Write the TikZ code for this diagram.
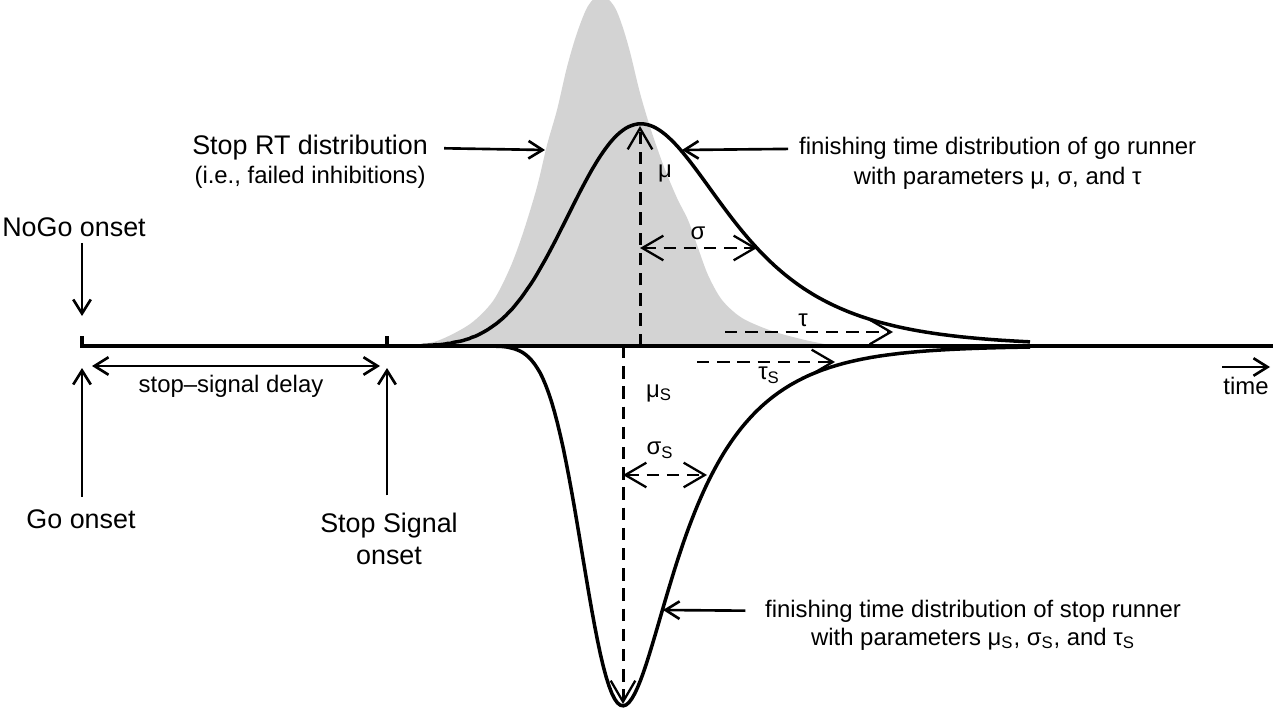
\documentclass[tikz,border=0pt]{standalone}
\usepackage{fontspec}
\setmainfont{Liberation Sans}
\usetikzlibrary{positioning, calc, arrows.meta}
\definecolor{rtgray}{RGB}{211,211,211}
\tikzset{
  rt axis/.style={black, line width=1.9pt, line cap=butt},
  rt curve/.style={black, line width=2pt},
  rt fill/.style={fill=rtgray, draw=none},
  rt par/.style={black, line width=1.7pt, dash pattern=on 7pt off 4.5pt, -{Straight Barb[length=12pt,width=14pt,line width=1.3pt]}},
  rt par2/.style={rt par, {Straight Barb[length=12pt,width=14pt,line width=1.3pt]}-{Straight Barb[length=12pt,width=14pt,line width=1.3pt]}},
  rt note/.style={black, line width=1.5pt, -{Straight Barb[length=8pt,width=10pt]}},
  rt note2/.style={rt note, {Straight Barb[length=8pt,width=10pt]}-{Straight Barb[length=8pt,width=10pt]}},
  lbl big/.style={font=\fontsize{15.3}{18.1}\selectfont, inner sep=1, align=center},
  lbl/.style={font=\fontsize{13.6}{17}\selectfont, inner sep=1, align=center},
  declare function={
    rtk(\xz)=1.5976*\xz+0.07056*\xz*\xz*\xz;
    rtphi(\xz)=(\xz<0) ? exp(-min(abs(rtk(\xz)),12))/(1+exp(-min(abs(rtk(\xz)),12))) : 1/(1+exp(-min(abs(rtk(\xz)),12)));
    rtexg(\xt,\xm,\xs,\xu)=exp(\xs*\xs/(2*\xu*\xu)-(\xt-\xm)/\xu)*rtphi((\xt-\xm)/\xs-\xs/\xu);
  }
}
\newcommand{\subS}{\textsubscript{S}}

\begin{document}
\begin{tikzpicture}[x=0.02cm, y=-0.02cm]
\useasboundingbox (0,0) rectangle (1273,709);

% observed stop RT distribution
\begin{scope}
\clip (0,0) rectangle (1273,709);
\fill[rt fill] plot[smooth] coordinates {(405,346) (437,341) (470,324) (493,301) (510,268) (523,233) (537,187) (547,145) (557,110) (567,67) (577,33) (588,6) (601,-6) (614,6) (622,25) (630,52) (640,93) (651,130) (664,167) (677,198) (688,220) (697,245) (708,275) (722,300) (742,318) (772,331) (805,340) (835,346)} -- cycle;
\end{scope}

% time axis
\coordinate (go_on) at (82,346);
\coordinate (ss_on) at (387,346);
\coordinate (ax_end) at (1273,346);
\draw[rt axis] ($(go_on)+(0,-10)$) -- (go_on) -- (ax_end);
\draw[rt axis] ($(ss_on)+(0,-10)$) -- (ss_on);

% go and stop runners (ex-Gaussian)
\draw[rt curve] plot[domain=420:1030, samples=200] (\x, {346-551*rtexg(\x,590,58,86)});
\draw[rt curve] plot[domain=460:1030, samples=200] (\x, {346+722*rtexg(\x,591,30,66)});

% parameters
\coordinate (mu_b) at (640,346);
\coordinate (mu_t) at (640,126);
\draw[rt par] (mu_b) -- (mu_t);
\coordinate (sg_l) at (640,248);
\coordinate (sg_r) at (757,248);
\draw[rt par2] (sg_l) -- (sg_r);
\coordinate (tau_l) at (725,332);
\coordinate (tau_r) at (893,332);
\draw[rt par] (tau_l) -- (tau_r);
\coordinate (muS_b) at (623,346);
\coordinate (muS_t) at (623,704);
\draw[rt par] (muS_b) -- (muS_t);
\coordinate (sgS_l) at (623,475);
\coordinate (sgS_r) at (707,475);
\draw[rt par2] (sgS_l) -- (sgS_r);
\coordinate (tauS_l) at (697,362);
\coordinate (tauS_r) at (835,362);
\draw[rt par] (tauS_l) -- (tauS_r);

\node[lbl] (mu) at (665,173) {μ};
\node[lbl] (sg) at (698,233) {σ};
\node[lbl] (tau) at (803,320) {τ};
\node[lbl] (tauS) at (769,375) {τ\subS};
\node[lbl] (muS) at (659,393) {μ\subS};
\node[lbl] (sgS) at (660,450) {σ\subS};

% onsets
\node[lbl big, anchor=base] (nogo) at (74,237) {NoGo onset};
\coordinate (nogo_tip) at (82,316);
\draw[rt note, shorten <=2pt] (nogo.south -| go_on) -- (nogo_tip);
\node[lbl big, anchor=base] (goon) at (81,528) {Go onset};
\coordinate (goon_tip) at (82,368);
\draw[rt note, shorten <=6pt] (goon.north -| go_on) -- (goon_tip);
\node[lbl big] (sson) at (389,539) {Stop Signal\\onset};
\coordinate (sson_tip) at (387,368);
\draw[rt note, shorten <=9pt] (sson.north -| ss_on) -- (sson_tip);

\coordinate (ssd_l) at (92,366);
\coordinate (ssd_r) at (380,366);
\draw[rt note2] (ssd_l) -- (ssd_r);
\node[lbl, anchor=base] (ssd) at (231,392) {stop–signal delay};

\coordinate (time_l) at (1222,367);
\coordinate (time_r) at (1270,367);
\draw[rt note] (time_l) -- (time_r);
\node[lbl, anchor=base] (time) at (1246,394) {time};

% annotations
\node[lbl big, anchor=base east] (rt1) at (430,155) {Stop RT distribution};
\node[lbl, anchor=base] (rt2) at ($(rt1.base)+(0,29)$) {(i.e., failed inhibitions)};
\coordinate (rt_tip) at (545,150);
\draw[rt note, shorten <=8pt] (rt1.east) -- (rt_tip);

\node[lbl, anchor=base west] (go1) at (797,155) {finishing time distribution of go runner};
\node[lbl, anchor=base] (go2) at ($(go1.base)+(0,30)$) {with parameters μ, σ, and τ};
\coordinate (go_tip) at (682,150);
\draw[rt note, shorten <=5pt] (go1.west) -- (go_tip);

\node[lbl, anchor=base west] (st1) at (763,617) {finishing time distribution of stop runner};
\node[lbl, anchor=base] (st2) at ($(st1.base)+(0,28)$) {with parameters μ\subS, σ\subS, and τ\subS};
\coordinate (st_tip) at (663,610);
\draw[rt note, shorten <=10pt] (st1.west) -- (st_tip);

\end{tikzpicture}
\end{document}
